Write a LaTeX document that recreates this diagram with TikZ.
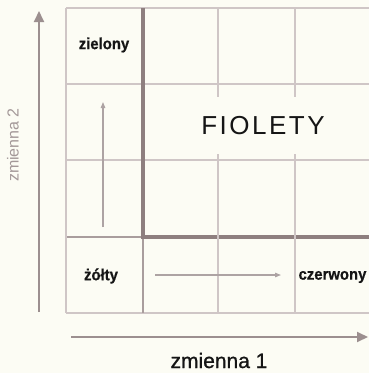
\documentclass[tikz,border=0pt]{standalone}
\usepackage{fontspec}
\usepackage{graphicx}
\setmainfont{Liberation Sans}
\usetikzlibrary{arrows.meta}
\definecolor{bg}{HTML}{FCFCF4}
\definecolor{gridc}{HTML}{CFC6C6}
\definecolor{thickc}{HTML}{8E7F7F}
\definecolor{midc}{HTML}{A99D9D}
\definecolor{axisc}{HTML}{9C8F8F}
\definecolor{smallc}{HTML}{ADA3A3}
\definecolor{lblc}{HTML}{A39898}
\definecolor{txtc}{HTML}{151515}
\begin{document}
\begin{tikzpicture}[x=1pt,y=-1pt,
  gridline/.style={gridc, line width=1.3pt},
  midline/.style={midc, line width=1.6pt},
  thickline/.style={thickc, line width=3.5pt},
  axisarrow/.style={axisc, line width=2pt, -{Triangle[length=11pt,width=10pt]}},
  smallarrow/.style={smallc, line width=1.2pt, -{Triangle[length=6pt,width=4.5pt]}},
  cell/.style={font={\bfseries\fontsize{16}{16}\selectfont\addfontfeatures{FakeBold=0.6}}, text=txtc, inner sep=0pt},
]
\fill[bg] (0,0) rectangle (369,373);
\useasboundingbox (0,0) rectangle (369,373);
% grid
\foreach \y in {8,84,160,313} \draw[gridline] (66,\y) -- (369,\y);
\draw[midline] (66,237) -- (143,237);
\draw[gridline] (66,8) -- (66,313);
\draw[midline] (143,237) -- (143,313);
\draw[thickline] (143,8) -- (143,237) -- (369,237);
\foreach \x in {218,295} \draw[gridline] (\x,8) -- (\x,313);
% labels
\node[fill=bg, minimum width=140pt, minimum height=57pt, inner sep=0pt,
  font=\fontsize{26}{26}\selectfont, text=txtc] (fio) at (263,125.5)
  {F\kern2.5pt I\kern2.5pt O\kern2.5pt L\kern2.5pt E\kern2.5pt T\kern2.5pt Y};
\node[cell] (ziel) at (104,45) {\scalebox{0.93}[1]{zielony}};
\node[cell] (zolt) at (101,276) {\scalebox{0.93}[1]{żółty}};
\node[cell] (czer) at (332.5,277) {\scalebox{0.93}[1]{czerwony}};
\node[font={\fontsize{21}{21}\selectfont\addfontfeatures{FakeBold=1}}, text=txtc, inner sep=0pt, anchor=base] (z1) at (219,368) {zmienna 1};
\node[font=\fontsize{16}{16}\selectfont, text=lblc, rotate=90, inner sep=0pt] (z2) at (13,145) {zmienna 2};
% arrows
\coordinate (va) at (39,312);
\coordinate (vb) at (39,11);
\coordinate (ha) at (71,337);
\coordinate (hb) at (368,337);
\coordinate (sva) at (103,227);
\coordinate (svb) at (103,102);
\coordinate (sha) at (155,275);
\coordinate (shb) at (281,275);
\draw[axisarrow] (va) -- (vb);
\draw[axisarrow] (ha) -- (hb);
\draw[smallarrow] (sva) -- (svb);
\draw[smallarrow] (sha) -- (shb);
\end{tikzpicture}
\end{document}
